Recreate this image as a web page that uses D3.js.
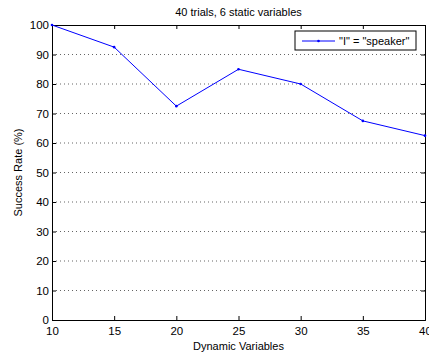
<!DOCTYPE html>
<html>
<head>
<meta charset="utf-8">
<script src="https://cdn.jsdelivr.net/npm/d3@7"></script>
<style>
  body { margin: 0; background: #fff; }
  text { font-family: "Liberation Sans", Arial, sans-serif; }
</style>
</head>
<body>
<div id="chart"></div>
<script>
// Data
const dynamicVars = [10, 15, 20, 25, 30, 35, 40];
const successRate = [100, 92.5, 72.5, 85, 80, 67.5, 62.5];
const xTicks = [10, 15, 20, 25, 30, 35, 40];
const yTicks = [0, 10, 20, 30, 40, 50, 60, 70, 80, 90, 100];
const seriesName = '"I" = "speaker"';

// Layout
const width = 429, height = 352;
const margin = { top: 25, right: 4, bottom: 32, left: 52 };
const plotW = width - margin.left - margin.right;
const plotH = height - margin.top - margin.bottom;

const svg = d3.select('#chart').append('svg')
    .attr('width', width)
    .attr('height', height);

const x = d3.scaleLinear().domain([10, 40]).range([margin.left, margin.left + plotW]);
const y = d3.scaleLinear().domain([0, 100]).range([margin.top + plotH, margin.top]);

// Horizontal dotted grid
svg.append('g')
    .selectAll('line')
    .data(yTicks.filter(d => d > 0 && d < 100))
    .enter().append('line')
    .attr('x1', x(10)).attr('x2', x(40))
    .attr('y1', d => y(d)).attr('y2', d => y(d))
    .attr('stroke', '#000')
    .attr('stroke-width', 1)
    .attr('stroke-dasharray', '1,3')
    .attr('opacity', 0.6);

// Axes (ticks pointing inward)
const fontSize = 11;
const tickFont = 11.5;
const xAxis = svg.append('g')
    .attr('transform', `translate(0,${y(0)})`)
    .call(d3.axisBottom(x).tickValues(xTicks).tickSize(-4).tickPadding(7));
const xTop = svg.append('g')
    .attr('transform', `translate(0,${y(100)})`)
    .call(d3.axisTop(x).tickValues(xTicks).tickSize(-4).tickFormat(''));
const yAxis = svg.append('g')
    .attr('transform', `translate(${x(10)},0)`)
    .call(d3.axisLeft(y).tickValues(yTicks).tickSize(-4).tickPadding(3));
const yRight = svg.append('g')
    .attr('transform', `translate(${x(40)},0)`)
    .call(d3.axisRight(y).tickValues(yTicks).tickSize(-4).tickFormat(''));

[xAxis, xTop, yAxis, yRight].forEach(a => {
    a.select('.domain').attr('stroke', '#000').attr('stroke-width', 1);
    a.selectAll('.tick line').attr('stroke', '#000');
    a.selectAll('text')
        .attr('font-size', tickFont)
        .attr('font-family', '"Liberation Sans", Arial, sans-serif')
        .attr('fill', '#000');
});

// Line
const line = d3.line()
    .x((d, i) => x(dynamicVars[i]))
    .y(d => y(d));

svg.append('path')
    .datum(successRate)
    .attr('fill', 'none')
    .attr('stroke', '#0000ff')
    .attr('stroke-width', 1)
    .attr('d', line);

svg.append('g')
    .selectAll('circle')
    .data(successRate)
    .enter().append('circle')
    .attr('cx', (d, i) => x(dynamicVars[i]))
    .attr('cy', d => y(d))
    .attr('r', 1.3)
    .attr('fill', '#0000ff');

// Title and labels
svg.append('text')
    .attr('x', (x(10) + x(40)) / 2)
    .attr('y', 16)
    .attr('text-anchor', 'middle')
    .attr('font-size', fontSize)
    .text('40 trials, 6 static variables');

svg.append('text')
    .attr('x', (x(10) + x(40)) / 2)
    .attr('y', 350)
    .attr('text-anchor', 'middle')
    .attr('font-size', fontSize)
    .text('Dynamic Variables');

svg.append('text')
    .attr('transform', `translate(22,${(y(0) + y(100)) / 2}) rotate(-90)`)
    .attr('text-anchor', 'middle')
    .attr('font-size', fontSize)
    .text('Success Rate (%)');

// Legend
const legend = svg.append('g').attr('transform', 'translate(295,31)');
legend.append('rect')
    .attr('width', 121).attr('height', 19)
    .attr('fill', '#fff')
    .attr('stroke', '#000')
    .attr('stroke-width', 1);
legend.append('line')
    .attr('x1', 7).attr('x2', 40)
    .attr('y1', 10).attr('y2', 10)
    .attr('stroke', '#0000ff');
legend.append('circle')
    .attr('cx', 23.5).attr('cy', 10).attr('r', 1.3)
    .attr('fill', '#0000ff');
legend.append('text')
    .attr('x', 44).attr('y', 14)
    .attr('font-size', fontSize)
    .text(seriesName);
</script>
</body>
</html>
